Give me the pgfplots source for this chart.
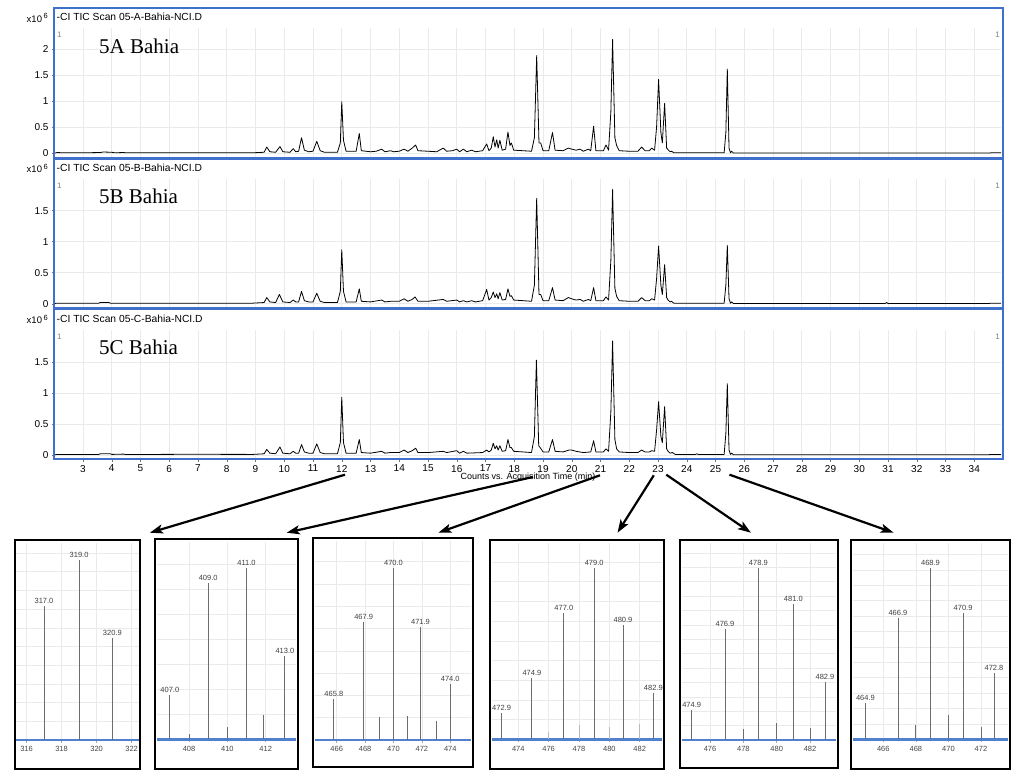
\documentclass[border=0pt]{standalone}
\usepackage{fontspec}
\setmainfont{Liberation Sans}
\newfontfamily\timesf{Liberation Serif}
\usepackage{pgfplots}
\pgfplotsset{compat=1.18}
\usetikzlibrary{arrows.meta}

\definecolor{frameblue}{RGB}{62,112,204}
\definecolor{axblue}{RGB}{80,128,206}
\definecolor{gridgray}{RGB}{234,234,234}

\pgfplotsset{
  chrom/.style={
    scale only axis, width=946pt,
    xmin=2.026, xmax=34.93,
    axis line style={draw=none},
    xtick={3,...,34},
    grid=major, major grid style={gridgray, line width=0.6pt},
    ytick pos=left, xtick pos=bottom,
    tick align=outside, major tick length=3pt,
    tick style={black!55, line width=0.5pt},
    /pgf/number format/assume math mode=true,
    yticklabel style={font=\fontsize{10}{10}\selectfont},
    xticklabel style={font=\fontsize{10}{10}\selectfont},
  },
  notx/.style={xticklabels={}, x tick style={draw=none}},
  trace/.style={black, line width=0.8pt, line join=round},
  spec/.style={
    scale only axis, clip=false, ymin=0,
    axis x line*=bottom, axis y line*=left,
    x axis line style={-, draw=axblue, line width=2.4pt},
    y axis line style={draw=none},
    xtick distance=2,
    yticklabels={}, y tick style={draw=none},
    grid=major, major grid style={gridgray, line width=0.6pt},
    tick align=outside, major tick length=3pt,
    x tick style={gray!70, line width=0.6pt},
    /pgf/number format/assume math mode=true,
    /pgf/number format/1000 sep={},
    xticklabel style={font=\fontsize{7.5}{7.5}\selectfont, text=gray!55!black},
  },
  bar/.style={ycomb, gray!85!black, line width=0.9pt},
  minor bar/.style={ycomb, gray!55, line width=0.9pt},
  lab bar/.style={ycomb, gray!85!black, line width=0.9pt,
    nodes near coords, point meta=explicit symbolic,
    every node near coord/.style={font=\fontsize{7.5}{7.5}\selectfont, text=black!75, inner sep=2pt}},
}

\begin{document}
\begin{tikzpicture}
\useasboundingbox (0pt,0pt) rectangle (1024pt,-781pt);

% ---------- 5A ----------
\begin{axis}[chrom, notx, at={(55pt,-157pt)}, anchor=south west,
  height=129pt, ymin=-0.071, ymax=2.41, ytick={0,0.5,1,1.5,2}]
\addplot[trace] coordinates {
(2.03,0.005) (2.1,0.015) (2.3,0.01) (3.0,0.01) (3.6,0.015) (3.7,0.025) (4.0,0.02) (4.1,0.01)
(4.4,0.015) (4.5,0.01) (6.7,0.012) (8.9,0.01) (9.3,0.02) (9.39,0.12) (9.5,0.03) (9.7,0.02)
(9.85,0.13) (9.95,0.03) (10.2,0.02) (10.31,0.09) (10.4,0.03) (10.5,0.04) (10.6,0.30) (10.7,0.06)
(10.85,0.03) (11.0,0.04) (11.13,0.23) (11.25,0.05) (11.4,0.02) (11.85,0.02) (11.95,0.2) (12.0,0.99)
(12.06,0.25) (12.15,0.04) (12.5,0.04) (12.61,0.38) (12.68,0.05) (13.0,0.03) (13.2,0.04) (13.39,0.08)
(13.5,0.03) (13.7,0.05) (13.8,0.03) (14.0,0.04) (14.17,0.08) (14.3,0.04) (14.45,0.1) (14.57,0.16)
(14.65,0.05) (15.0,0.04) (15.3,0.03) (15.53,0.1) (15.65,0.04) (15.85,0.05) (16.0,0.08) (16.1,0.03)
(16.23,0.08) (16.35,0.03) (16.52,0.06) (16.65,0.03) (16.9,0.05) (17.04,0.18) (17.12,0.05) (17.2,0.1)
(17.27,0.32) (17.33,0.12) (17.39,0.26) (17.44,0.1) (17.5,0.25) (17.58,0.06) (17.7,0.08) (17.78,0.41)
(17.85,0.15) (17.9,0.2) (17.98,0.06) (18.3,0.05) (18.6,0.04) (18.7,0.3) (18.78,1.88) (18.86,0.2)
(18.92,0.2) (19.0,0.05) (19.2,0.05) (19.33,0.4) (19.42,0.06) (19.7,0.05) (19.88,0.1) (20.0,0.08)
(20.15,0.06) (20.29,0.08) (20.4,0.04) (20.58,0.08) (20.66,0.05) (20.76,0.52) (20.84,0.05) (21.1,0.05)
(21.19,0.16) (21.28,0.06) (21.36,0.8) (21.42,2.19) (21.5,0.3) (21.56,0.15) (21.65,0.05) (22.0,0.04)
(22.3,0.04) (22.43,0.12) (22.55,0.05) (22.7,0.05) (22.78,0.1) (22.88,0.06) (22.95,0.5) (23.02,1.42)
(23.1,0.4) (23.15,0.2) (23.23,0.96) (23.3,0.1) (23.35,0.07) (23.42,0.03) (23.47,0.04) (23.55,0.01)
(24.5,0.01) (25.3,0.01) (25.36,0.4) (25.41,1.62) (25.47,0.1) (25.52,0.01) (25.56,0.04) (25.62,0.005)
(30,0.005) (34.5,0.005) (34.6,0.01) (34.93,0.01)
};
\end{axis}

% ---------- 5B ----------
\begin{axis}[chrom, notx, at={(55pt,-307.5pt)}, anchor=south west,
  height=128.5pt, ymin=-0.06, ymax=2.01, ytick={0,0.5,1,1.5}]
\addplot[trace] coordinates {
(2.03,0.005) (2.1,0.01) (3.0,0.008) (3.55,0.01) (3.6,0.02) (3.9,0.02) (3.95,0.01) (8.9,0.01)
(9.3,0.02) (9.39,0.1) (9.5,0.03) (9.7,0.02) (9.83,0.15) (9.95,0.03) (10.2,0.02) (10.31,0.06)
(10.4,0.03) (10.5,0.03) (10.6,0.2) (10.7,0.05) (10.85,0.03) (11.0,0.03) (11.13,0.17) (11.25,0.04)
(11.4,0.02) (11.85,0.02) (11.95,0.2) (12.0,0.87) (12.06,0.2) (12.15,0.03) (12.5,0.03) (12.61,0.24)
(12.68,0.04) (13.0,0.03) (13.39,0.06) (13.5,0.03) (13.7,0.04) (14.0,0.04) (14.17,0.08) (14.3,0.04)
(14.45,0.07) (14.55,0.11) (14.65,0.04) (15.0,0.04) (15.53,0.07) (15.65,0.04) (16.0,0.06) (16.1,0.03)
(16.23,0.05) (16.35,0.03) (16.52,0.05) (16.65,0.03) (16.9,0.05) (17.04,0.23) (17.12,0.06) (17.2,0.1)
(17.27,0.19) (17.33,0.1) (17.39,0.16) (17.44,0.08) (17.5,0.18) (17.58,0.06) (17.7,0.07) (17.78,0.24)
(17.85,0.12) (17.9,0.13) (17.98,0.06) (18.3,0.05) (18.6,0.04) (18.7,0.3) (18.78,1.70) (18.86,0.15)
(18.92,0.15) (19.0,0.05) (19.2,0.05) (19.33,0.26) (19.42,0.06) (19.7,0.05) (19.88,0.1) (20.0,0.08)
(20.15,0.06) (20.29,0.07) (20.4,0.04) (20.58,0.07) (20.66,0.05) (20.76,0.26) (20.84,0.05) (21.1,0.05)
(21.19,0.11) (21.28,0.06) (21.36,0.7) (21.42,1.84) (21.5,0.25) (21.56,0.12) (21.65,0.05) (22.0,0.04)
(22.3,0.04) (22.43,0.1) (22.55,0.05) (22.7,0.05) (22.78,0.08) (22.88,0.06) (22.95,0.4) (23.02,0.93)
(23.1,0.3) (23.15,0.15) (23.23,0.63) (23.3,0.1) (23.35,0.06) (23.42,0.03) (23.47,0.04) (23.55,0.01)
(25.3,0.01) (25.36,0.3) (25.41,0.94) (25.47,0.08) (25.52,0.01) (25.56,0.03) (25.62,0.005)
(30.9,0.005) (30.95,0.02) (31.0,0.005) (34.5,0.005) (34.6,0.01) (34.93,0.01)
};
\end{axis}

% ---------- 5C ----------
\begin{axis}[chrom, at={(55pt,-458.5pt)}, anchor=south west,
  height=128.5pt, ymin=-0.056, ymax=2.016, ytick={0,0.5,1,1.5}]
\addplot[trace] coordinates {
(2.03,0.005) (2.1,0.01) (3.0,0.008) (3.55,0.01) (3.6,0.02) (3.95,0.02) (4.0,0.01) (4.4,0.015)
(4.5,0.008) (6.7,0.012) (8.9,0.01) (9.3,0.02) (9.39,0.09) (9.5,0.03) (9.7,0.02) (9.85,0.13)
(9.95,0.03) (10.2,0.02) (10.31,0.06) (10.4,0.03) (10.5,0.03) (10.6,0.17) (10.7,0.05) (10.85,0.03)
(11.0,0.03) (11.13,0.18) (11.25,0.04) (11.4,0.02) (11.85,0.02) (11.95,0.2) (12.0,0.93) (12.06,0.2)
(12.15,0.03) (12.5,0.03) (12.61,0.25) (12.68,0.04) (13.0,0.03) (13.39,0.06) (13.5,0.03) (13.7,0.04)
(14.0,0.04) (14.17,0.08) (14.3,0.04) (14.45,0.07) (14.57,0.11) (14.65,0.04) (15.0,0.04) (15.53,0.06)
(15.65,0.04) (16.0,0.07) (16.1,0.03) (16.23,0.06) (16.35,0.03) (16.9,0.04) (17.04,0.08) (17.12,0.05)
(17.2,0.08) (17.27,0.19) (17.33,0.1) (17.39,0.15) (17.44,0.08) (17.5,0.15) (17.58,0.06) (17.7,0.07)
(17.78,0.25) (17.85,0.12) (17.9,0.12) (17.98,0.06) (18.3,0.05) (18.6,0.04) (18.7,0.3) (18.77,1.53)
(18.85,0.15) (18.9,0.12) (19.0,0.05) (19.2,0.05) (19.33,0.25) (19.42,0.06) (19.7,0.05) (19.9,0.08)
(20.0,0.08) (20.15,0.06) (20.4,0.04) (20.66,0.05) (20.76,0.23) (20.84,0.05) (21.1,0.05) (21.19,0.1)
(21.28,0.06) (21.36,0.7) (21.42,1.84) (21.5,0.25) (21.56,0.1) (21.65,0.05) (22.0,0.04) (22.3,0.04)
(22.43,0.08) (22.55,0.05) (22.7,0.05) (22.78,0.07) (22.88,0.06) (22.95,0.4) (23.02,0.86) (23.1,0.3)
(23.15,0.2) (23.23,0.78) (23.3,0.1) (23.35,0.06) (23.42,0.03) (23.5,0.04) (23.6,0.01) (24.3,0.01)
(24.35,0.02) (24.4,0.01) (25.3,0.01) (25.36,0.35) (25.41,1.15) (25.47,0.08) (25.52,0.01) (25.56,0.03)
(25.62,0.005) (34.5,0.005) (34.6,0.01) (34.93,0.01)
};
\end{axis}

% frames and texts of chromatograms
\foreach \yt/\yb/\tl/\nm in {8/157.5/A/5A, 158.8/308/B/5B, 309.6/459/C/5C}{
  \draw[frameblue, line width=1.6pt] (54pt,-\yt pt) rectangle (1003pt,-\yb pt);
  \node[anchor=west, font=\fontsize{10.3}{10.3}\selectfont, inner sep=0pt]
    at (56.5pt,{-(\yt+9.3)*1pt}) {-CI TIC Scan 05-\tl-Bahia-NCI.D};
  \node[anchor=east, font=\fontsize{9.5}{9.5}\selectfont, inner sep=0pt]
    at (48pt,{-(\yt+9.8)*1pt}) {x10\,\raisebox{3.5pt}{\fontsize{7.5}{7.5}\selectfont 6}};
  \node[anchor=west, font=\fontsize{8}{8}\selectfont, text=gray, inner sep=0pt]
    at (57pt,{-(\yt+27)*1pt}) {1};
  \node[anchor=east, font=\fontsize{8}{8}\selectfont, text=gray, inner sep=0pt]
    at (1000pt,{-(\yt+27)*1pt}) {1};
  \node[anchor=west, font=\timesf\fontsize{21}{21}\selectfont, inner sep=0pt]
    at (99pt,{-(\yt+38)*1pt}) {\nm\ Bahia};
}
\node[font=\fontsize{9}{9}\selectfont, inner sep=0pt] at (528pt,-477.5pt)
  {Counts vs. Acquisition Time (min)};

% ---------- spectra ----------
\begin{axis}[spec, at={(16pt,-740pt)}, anchor=south west, width=123pt, height=197pt,
  xmin=315.4, xmax=322.42, ymax=197, ytick distance=18.7]
\addplot[lab bar] coordinates {(317.0,134.3) [317.0] (319.0,180) [319.0] (320.9,102.3) [320.9]};
\end{axis}

\begin{axis}[spec, at={(157pt,-739.3pt)}, anchor=south west, width=139pt, height=197.3pt,
  xmin=406.33, xmax=413.58, ymax=197.3, ytick distance=25]
\addplot[bar] coordinates {(408.0,5.3) (410.0,12.6) (411.9,24.3)};
\addplot[lab bar] coordinates {(407.0,44.3) [407.0] (409.0,156) [409.0] (411.0,171.6) [411.0] (413.0,83.3) [413.0]};
\end{axis}

\begin{axis}[spec, at={(315pt,-740pt)}, anchor=south west, width=156pt, height=199pt,
  xmin=464.47, xmax=475.46, ymax=199, ytick distance=22.3]
\addplot[bar] coordinates {(469.0,22.7) (471.0,24) (473.0,19)};
\addplot[lab bar] coordinates {(465.8,40.7) [465.8] (467.9,118.3) [467.9] (470.0,171.7) [470.0] (471.9,113.3) [471.9] (474.0,55.7) [474.0]};
\end{axis}

\begin{axis}[spec, at={(492pt,-739.3pt)}, anchor=south west, width=170pt, height=196.3pt,
  xmin=472.27, xmax=483.47, ymax=196.3, ytick distance=19.7]
\addplot[minor bar] coordinates {(476.0,7) (478.0,14.3) (480.0,12.6) (482.0,15.3)};
\addplot[lab bar] coordinates {(472.9,26) [472.9] (474.9,61.6) [474.9] (477.0,126) [477.0] (479.0,171) [479.0] (480.9,114.3) [480.9] (482.9,46) [482.9]};
\end{axis}

\begin{axis}[spec, at={(682pt,-740pt)}, anchor=south west, width=154pt, height=197pt,
  xmin=474.32, xmax=483.56, ymax=197, ytick distance=14.4]
\addplot[bar] coordinates {(478.0,10.7) (480.0,17.3) (482.0,11.7)};
\addplot[lab bar] coordinates {(474.9,30) [474.9] (476.9,111) [476.9] (478.9,172.3) [478.9] (481.0,135.7) [481.0] (482.9,57.7) [482.9]};
\end{axis}

\begin{axis}[spec, at={(853pt,-739.3pt)}, anchor=south west, width=155pt, height=196.3pt,
  xmin=464.14, xmax=473.66, ymax=196.3, ytick distance=15.4]
\addplot[bar] coordinates {(468.0,14.3) (470.0,24.3) (472.0,12.6)};
\addplot[lab bar] coordinates {(464.9,36) [464.9] (466.9,121.6) [466.9] (468.9,171) [468.9] (470.9,126) [470.9] (472.8,66) [472.8]};
\end{axis}

% spectrum frames
\draw[black, line width=2pt] (15pt,-540pt) rectangle (140pt,-769pt);
\draw[black, line width=2.6pt] (155pt,-539pt) rectangle (298pt,-769pt);
\draw[black, line width=2.6pt] (313pt,-538pt) rectangle (473pt,-767pt);
\draw[black, line width=2.6pt] (490pt,-540pt) rectangle (664pt,-769pt);
\draw[black, line width=2.6pt] (680pt,-540pt) rectangle (838pt,-768pt);
\draw[black, line width=2.6pt] (851pt,-540pt) rectangle (1010pt,-769pt);

% arrows
\begin{scope}[line width=2.2pt, -{Stealth[length=13pt, width=9pt, inset=3pt]}]
\draw (345pt,-474.7pt) -- (149.9pt,-532.7pt);
\draw (532.9pt,-477pt) -- (286.7pt,-532.7pt);
\draw (600pt,-475.3pt) -- (438.4pt,-532.7pt);
\draw (653.8pt,-475.3pt) -- (617.5pt,-532.7pt);
\draw (666.3pt,-474.7pt) -- (750.9pt,-532.7pt);
\draw (729.5pt,-474.7pt) -- (893.6pt,-532.7pt);
\end{scope}
\end{tikzpicture}
\end{document}
